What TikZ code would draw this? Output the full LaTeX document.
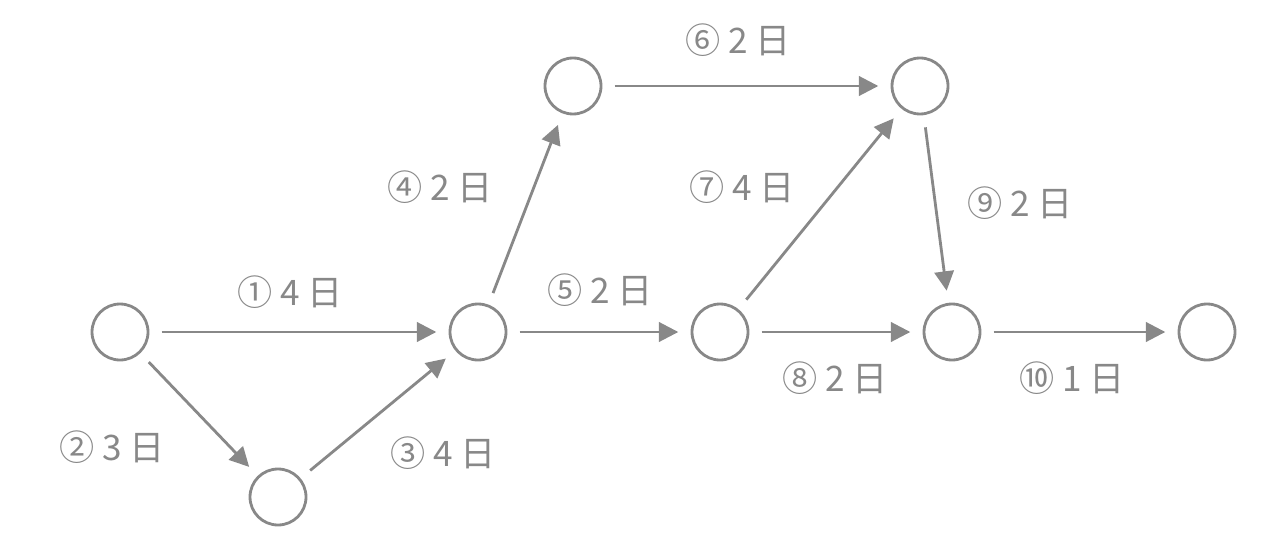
\documentclass[tikz,border=0pt]{standalone}
\usepackage{fontspec}
\setmainfont{Noto Sans CJK JP}
\usetikzlibrary{arrows.meta, positioning}
\definecolor{linegray}{HTML}{888888}
\begin{document}
\begin{tikzpicture}[x=0.02cm, y=-0.02cm,
		event/.style={circle, draw=linegray, line width=1.6pt, minimum size=1.12cm, inner sep=0pt},
		arrow/.style={-{Triangle[length=11pt, width=11pt]}, draw=linegray, line width=1.6pt, shorten >=7pt, shorten <=7pt},
		lbl/.style={text=linegray, font=\fontsize{20}{24}\selectfont, inner sep=0pt}
		]
		\useasboundingbox (0,0) rectangle (1274,544);
		
		% events
		\node[event] (a) at (120,332) {};
		\node[event] (b) at (278,497) {};
		\node[event] (c) at (478,332) {};
		\node[event] (d) at (573,86) {};
		\node[event] (e) at (720,332) {};
		\node[event] (f) at (920,86) {};
		\node[event] (g) at (952,332) {};
		\node[event] (h) at (1207,332) {};
		
		% activities
		\draw[arrow] (a) -- (c);
		\draw[arrow] (a) -- (b);
		\draw[arrow] (b) -- (c);
		\draw[arrow] (c) -- (d);
		\draw[arrow] (c) -- (e);
		\draw[arrow] (d) -- (f);
		\draw[arrow] (e) -- (f);
		\draw[arrow] (e) -- (g);
		\draw[arrow] (f) -- (g);
		\draw[arrow] (g) -- (h);
		
		% durations
		\node[lbl] (l1) at (290,292) {① 4 日};
		\node[lbl] (l2) at (112,447) {② 3 日};
		\node[lbl] (l3) at (443,453) {③ 4 日};
		\node[lbl] (l4) at (440,187) {④ 2 日};
		\node[lbl] (l5) at (600,290) {⑤ 2 日};
		\node[lbl] (l6) at (738,40) {⑥ 2 日};
		\node[lbl] (l7) at (742,187) {⑦ 4 日};
		\node[lbl] (l8) at (835,378) {⑧ 2 日};
		\node[lbl] (l9) at (1020,203) {⑨ 2 日};
		\node[lbl] (l10) at (1072,378) {⑩ 1 日};
		
	\end{tikzpicture}
\end{document}
